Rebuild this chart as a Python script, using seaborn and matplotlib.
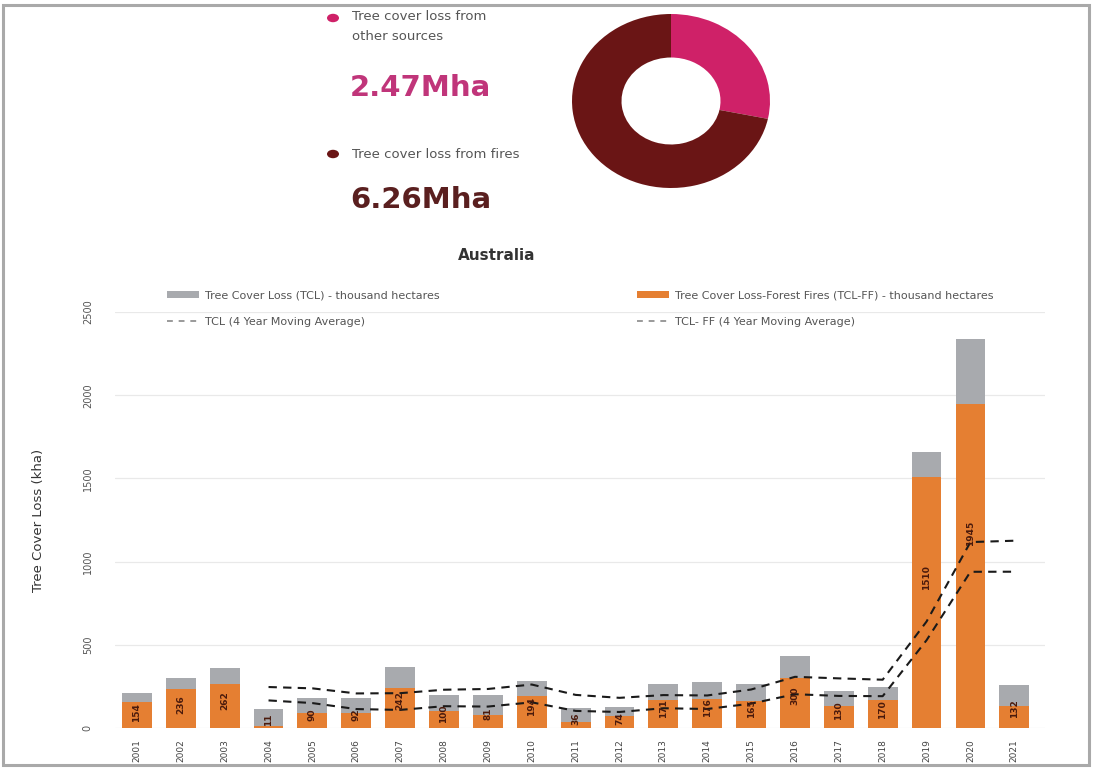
import numpy as np
import pandas as pd
import matplotlib
matplotlib.use("Agg")
import matplotlib.pyplot as plt
from matplotlib.patches import Patch, Rectangle, Circle
from matplotlib.lines import Line2D
import seaborn as sns

# --- data -------------------------------------------------------------
years = ["2001", "2002", "2003", "2004", "2005", "2006", "2007", "2008", "2009", "2010",
         "2011", "2012", "2013", "2014", "2015", "2016", "2017", "2018", "2019", "2020", "2021"]
tcl = [210, 300, 362, 113, 178, 178, 368, 196, 196, 285, 119,
       125, 262, 276, 262, 430, 225, 244, 1660, 2340, 258]          # total tree cover loss (kha)
tcl_ff = [154, 236, 262, 11, 90, 92, 242, 100, 81, 194, 36,
          74, 171, 176, 165, 300, 130, 170, 1510, 1945, 132]        # loss from forest fires (kha)

donut_labels = ["Tree cover loss from\nother sources", "Tree cover loss from fires"]
donut_values = [2.47, 6.26]   # Mha
donut_colors = ["#cf2168", "#6a1515"]
value_colors = ["#c0357a", "#5a1f1f"]

y_ticks = [0, 500, 1000, 1500, 2000, 2500]

GRAY = "#a8aaae"
ORANGE = "#e57f32"
LABEL_BROWN = "#4a1a0c"

sns.set_theme(style="white")
plt.rcParams["font.family"] = ["DejaVu Sans"]

W, H = 1095, 771
fig = plt.figure(figsize=(W / 100, H / 100), dpi=100)
fig.patch.set_facecolor("white")


def fx(px):
    return px / W


def fy(py):
    return 1 - py / H


# outer frame
fig.patches.append(Rectangle((fx(3), fy(765)), fx(1089) - fx(3), fy(5) - fy(765),
                             transform=fig.transFigure, fill=False,
                             edgecolor="#a9a9a9", lw=2.2, zorder=10))

# --- donut summary ------------------------------------------------------
dax = fig.add_axes([fx(572), fy(188), fx(770) - fx(572), fy(14) - fy(188)])
dax.pie(donut_values, colors=donut_colors, startangle=90, counterclock=False,
        radius=1.0, wedgeprops=dict(width=0.5, edgecolor="none"))
dax.set_aspect("auto")
dax.set_xlim(-1, 1)
dax.set_ylim(-1, 1)
dax.axis("off")

dot_y = [18, 154]
label_top = [10, 154]
value_y = [88, 200]
for i, (lab, val, c, vc) in enumerate(zip(donut_labels, donut_values, donut_colors, value_colors)):
    fig.patches.append(Circle((fx(333), fy(dot_y[i])), 6 / W, transform=fig.transFigure,
                              facecolor=c, edgecolor="none"))
    if "\n" in lab:
        fig.text(fx(352), fy(label_top[i]), lab, ha="left", va="top",
                 fontsize=9.5, color="#555555", linespacing=1.75)
    else:
        fig.text(fx(352), fy(label_top[i]), lab, ha="left", va="center",
                 fontsize=9.5, color="#555555")
    fig.text(fx(350), fy(value_y[i]), f"{val:.2f}Mha", ha="left", va="center",
             fontsize=21, fontweight="bold", color=vc)

# --- bar chart -----------------------------------------------------------
ax = fig.add_axes([fx(115), fy(728), fx(1045) - fx(115), fy(312) - fy(728)])
df = pd.DataFrame({"year": years, "tcl": tcl, "tcl_ff": tcl_ff})

sns.barplot(data=df, x="year", y="tcl", color=GRAY, saturation=1, width=0.68,
            linewidth=0, edgecolor="none", ax=ax, zorder=2)
sns.barplot(data=df, x="year", y="tcl_ff", color=ORANGE, saturation=1, width=0.68,
            linewidth=0, edgecolor="none", ax=ax, zorder=3)

# 4-year moving averages, as in the legend
pos = np.arange(len(years))
ma_tcl = df["tcl"].rolling(4).mean()
ma_ff = df["tcl_ff"].rolling(4).mean()
mask = ma_tcl.notna()
sns.lineplot(x=pos[mask], y=ma_tcl[mask], ax=ax, color="#1a1a1a", lw=1.5,
             linestyle=(0, (4, 3)), zorder=5)
sns.lineplot(x=pos[mask], y=ma_ff[mask], ax=ax, color="#1a1a1a", lw=1.5,
             linestyle=(0, (4, 3)), zorder=5)

# value labels for the fire series
t = np.array(tcl, dtype=float)
f = np.array(tcl_ff, dtype=float)
label_pos = np.minimum(0.55 * t, np.maximum(0.6 * f, 0.45 * t))
for i, (v, yp) in enumerate(zip(tcl_ff, label_pos)):
    ax.text(i, yp, str(v), rotation=90, ha="center", va="center",
            fontsize=6.5, color=LABEL_BROWN, fontweight="bold", zorder=6)

ax.set_xlim(-0.5, 20.7)
ax.set_ylim(0, 2500)
ax.set_yticks(y_ticks)
ax.set_yticklabels([str(v) for v in y_ticks], rotation=90, va="center",
                   fontsize=7, color="#555555")
ax.tick_params(axis="y", length=0, pad=16)
ax.tick_params(axis="x", length=0, pad=8, labelsize=6.5, labelcolor="#444444")
for lab in ax.get_xticklabels():
    lab.set_rotation(90)
ax.grid(axis="y", color="#e9e9e9", lw=0.9)
ax.set_axisbelow(True)
for s in ax.spines.values():
    s.set_visible(False)
ax.set_xlabel("")
ax.set_ylabel("Tree Cover Loss (kha)", fontsize=9.5, color="#333333", labelpad=27)

fig.text(fx(497), fy(256), "Australia", ha="center", va="center",
         fontsize=11, fontweight="bold", color="#333333")

# legends: two columns placed by hand
h_gray = Patch(facecolor=GRAY, edgecolor="none")
h_orange = Patch(facecolor=ORANGE, edgecolor="none")
h_ma1 = Line2D([], [], color="#9a9a9a", lw=1.4, linestyle=(0, (3, 3)))
h_ma2 = Line2D([], [], color="#9a9a9a", lw=1.4, linestyle=(0, (3, 3)))
leg_kw = dict(frameon=False, fontsize=8, labelcolor="#555555", handlelength=2.9,
              handleheight=0.6, handletextpad=0.5, labelspacing=1.5,
              borderaxespad=0, borderpad=0, loc="upper left")
leg1 = fig.legend([h_gray, h_ma1],
                  ["Tree Cover Loss (TCL) - thousand hectares",
                   "TCL (4 Year Moving Average)"],
                  bbox_to_anchor=(fx(167), fy(290)), **leg_kw)
leg2 = fig.legend([h_orange, h_ma2],
                  ["Tree Cover Loss-Forest Fires (TCL-FF) - thousand hectares",
                   "TCL- FF (4 Year Moving Average)"],
                  bbox_to_anchor=(fx(637), fy(290)), **leg_kw)

fig.savefig("out.png", dpi=100, facecolor="white")
